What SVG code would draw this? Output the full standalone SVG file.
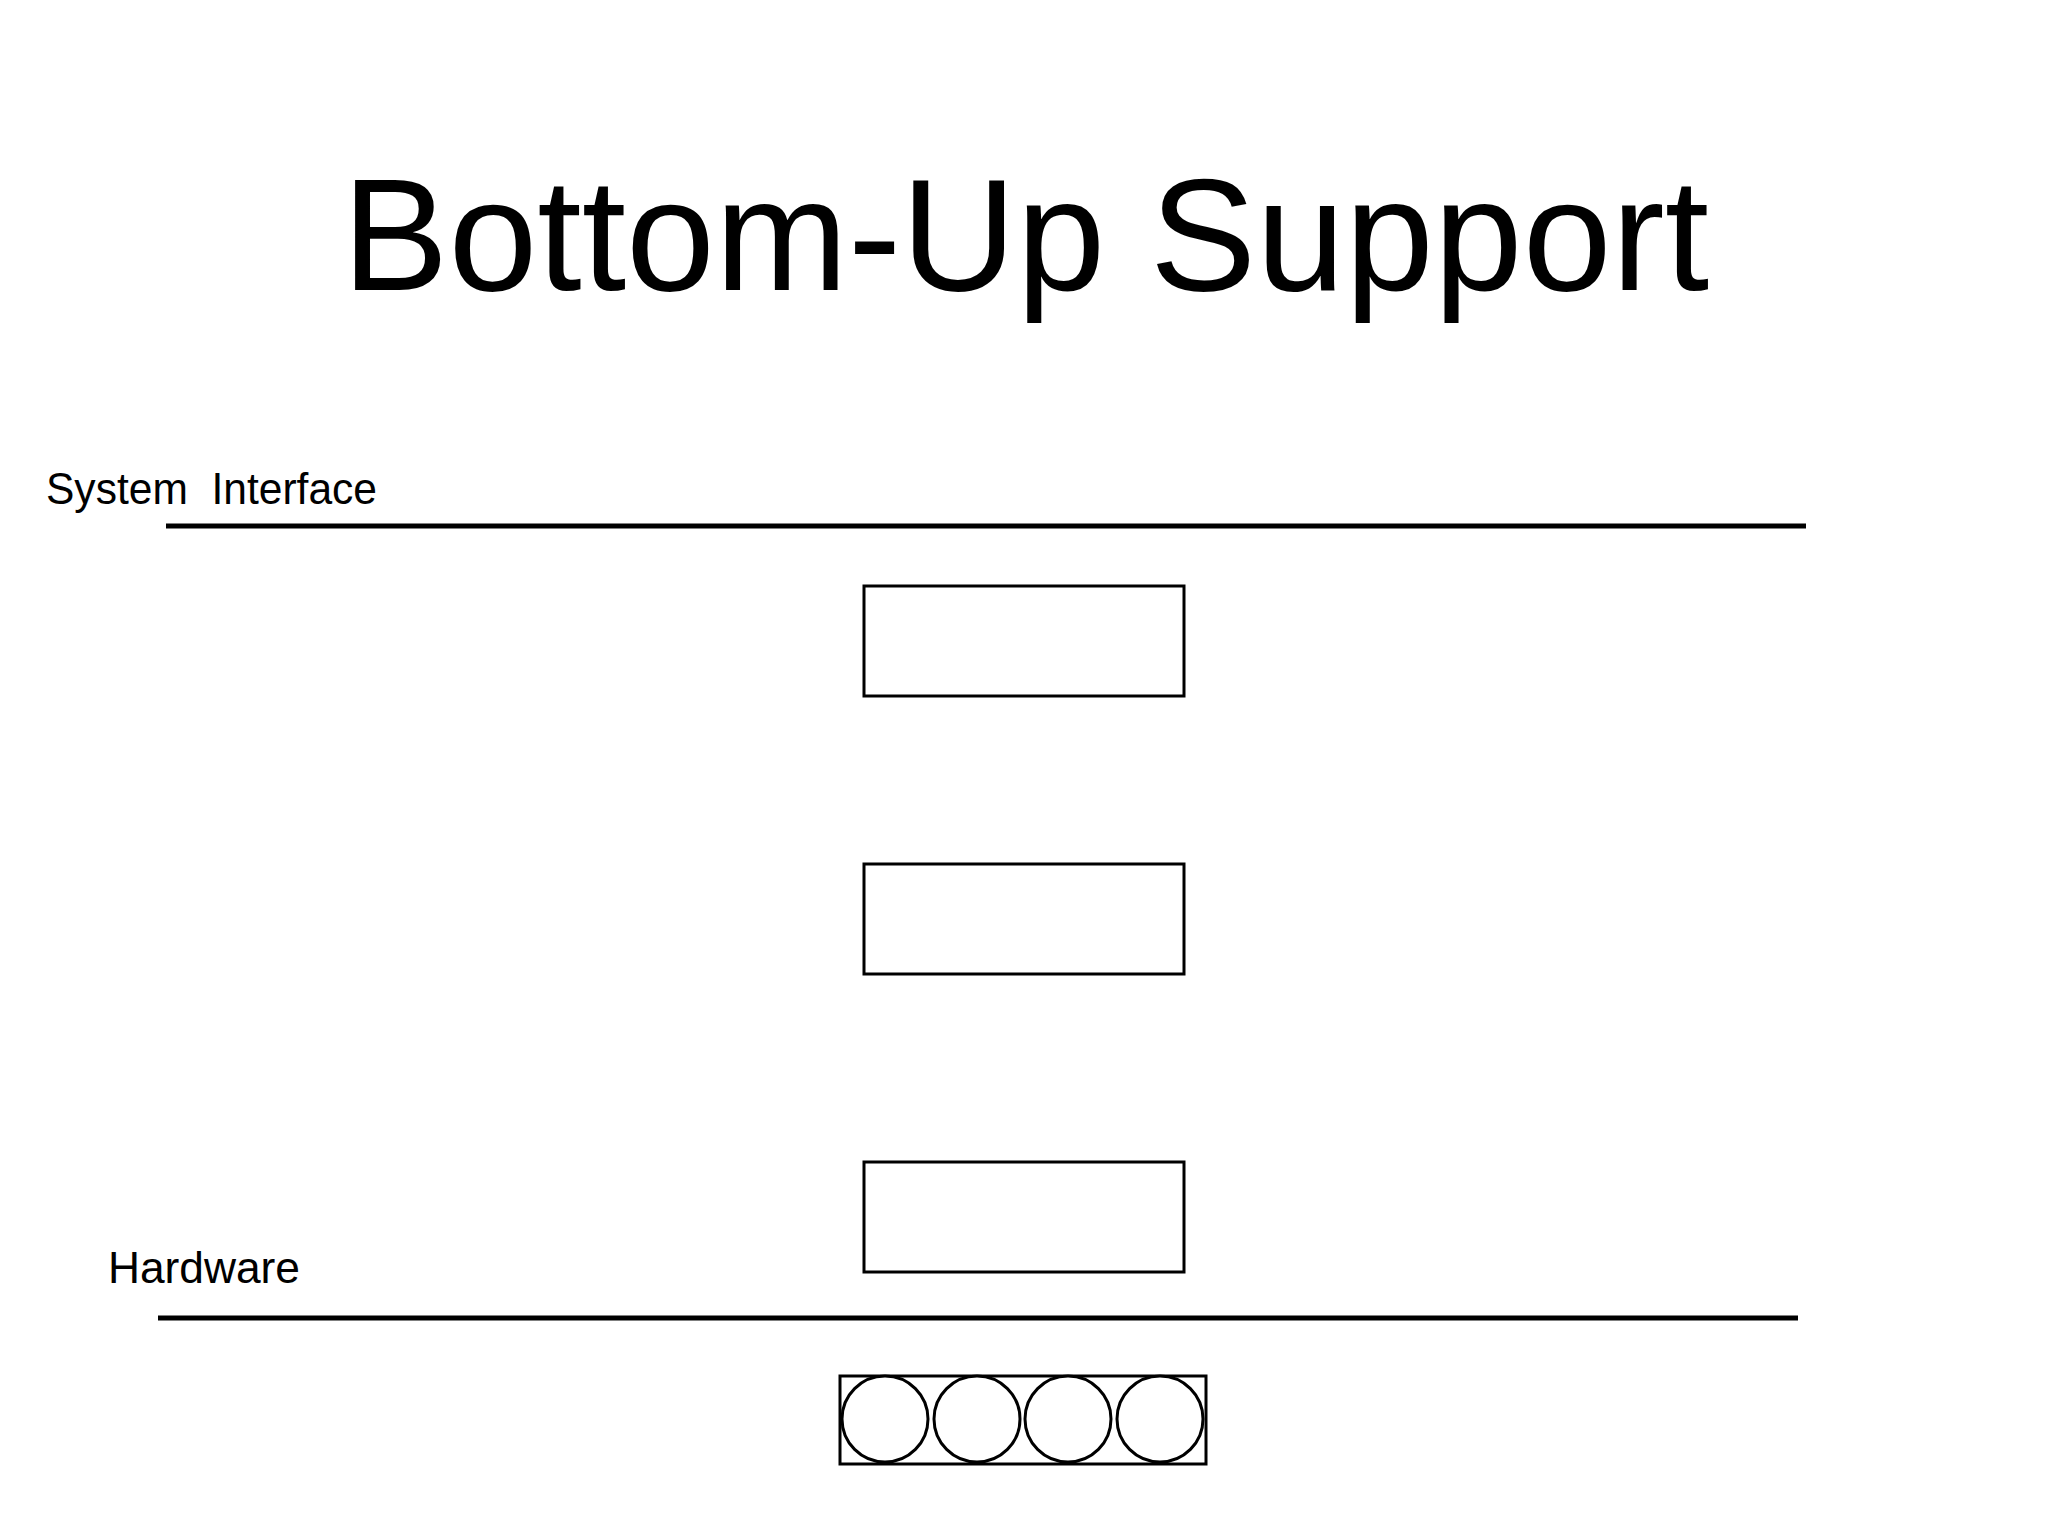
<svg xmlns="http://www.w3.org/2000/svg" width="2048" height="1536" viewBox="0 0 2048 1536">
<style>
.t{font-family:"Liberation Sans","DejaVu Sans",sans-serif;fill:#000;white-space:pre}
.box{fill:#fff;stroke:#000;stroke-width:3}
.line{stroke:#000;stroke-width:5}
</style>
<rect width="2048" height="1536" fill="#fff"/>
<g id="title"><text class="t" x="342" y="290" font-size="160" textLength="1367" lengthAdjust="spacingAndGlyphs">Bottom-Up Support</text></g>
<g id="system-interface"><text class="t" x="46" y="504" font-size="44" textLength="331" lengthAdjust="spacingAndGlyphs" xml:space="preserve">System  Interface</text></g>
<g id="hardware-label"><text class="t" x="108" y="1283" font-size="44" textLength="192" lengthAdjust="spacingAndGlyphs">Hardware</text></g>
<g id="connectors">
<line class="line" x1="166" y1="526" x2="1806" y2="526"/>
<line class="line" x1="158" y1="1318" x2="1798" y2="1318"/>
</g>
<g id="box1"><rect class="box" x="864" y="586" width="320" height="110"/></g>
<g id="box2"><rect class="box" x="864" y="864" width="320" height="110"/></g>
<g id="box3"><rect class="box" x="864" y="1162" width="320" height="110"/></g>
<g id="hardware">
<rect class="box" x="840" y="1376" width="366" height="88"/>
<circle class="box" cx="885" cy="1419" r="43"/>
<circle class="box" cx="977" cy="1419" r="43"/>
<circle class="box" cx="1068" cy="1419" r="43"/>
<circle class="box" cx="1160" cy="1419" r="43"/>
</g>
</svg>
